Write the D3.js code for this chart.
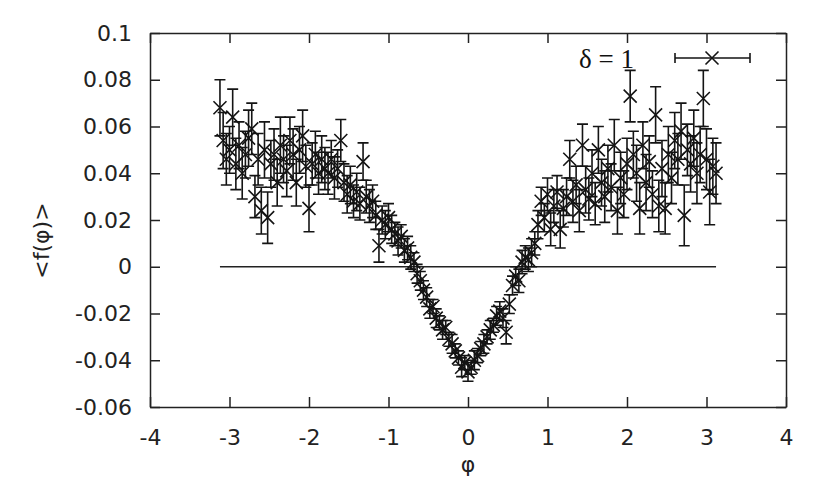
<!DOCTYPE html>
<html>
<head>
<meta charset="utf-8">
<script src="https://cdn.jsdelivr.net/npm/d3@7"></script>
<style>
  body { margin: 0; background: #fff; }
  svg { display: block; }
  .axis text { font-family: "DejaVu Sans", sans-serif; font-size: 22px; fill: #222; }
  .axis path, .axis line { stroke: #222; stroke-width: 1.5px; }
</style>
</head>
<body>
<script>
// phi values, mean f(phi), and error bar half-widths
var phi = [
  -3.12, -3.08, -3.04, -3.00, -2.96, -2.92, -2.88, -2.84, -2.80, -2.76, -2.72, -2.68, -2.64, -2.60, -2.56, -2.52,
  -2.48, -2.44, -2.40, -2.36, -2.32, -2.28, -2.24, -2.20, -2.16, -2.12, -2.08, -2.04, -2.00, -1.96, -1.92, -1.88,
  -1.84, -1.80, -1.76, -1.72, -1.68, -1.64, -1.60, -1.56, -1.52, -1.48, -1.44, -1.40, -1.36, -1.32, -1.28, -1.24,
  -1.20, -1.16, -1.12, -1.08, -1.04, -1.00, -0.96, -0.92, -0.88, -0.84, -0.80, -0.76, -0.72, -0.68, -0.64, -0.60,
  -0.56, -0.52, -0.48, -0.44, -0.40, -0.36, -0.32, -0.28, -0.24, -0.20, -0.16, -0.12, -0.08, -0.04, 0.00,
  0.04, 0.08, 0.12, 0.16, 0.20, 0.24, 0.28, 0.32, 0.36, 0.40, 0.44, 0.48, 0.52, 0.56, 0.60,
  0.64, 0.68, 0.72, 0.76, 0.80, 0.84, 0.88, 0.92, 0.96, 1.00, 1.04, 1.08, 1.12, 1.16, 1.20,
  1.24, 1.28, 1.32, 1.36, 1.40, 1.44, 1.48, 1.52, 1.56, 1.60, 1.64, 1.68, 1.72, 1.76, 1.80, 1.84,
  1.88, 1.92, 1.96, 2.00, 2.04, 2.08, 2.12, 2.16, 2.20, 2.24, 2.28, 2.32, 2.36, 2.40, 2.44, 2.48,
  2.52, 2.56, 2.60, 2.64, 2.68, 2.72, 2.76, 2.80, 2.84, 2.88, 2.92, 2.96, 3.00, 3.04, 3.08, 3.12
];
var fmean = [
  0.068, 0.054, 0.046, 0.050, 0.064, 0.044, 0.052, 0.040, 0.048, 0.055, 0.059, 0.030, 0.046, 0.024, 0.050, 0.021,
  0.044, 0.048, 0.036, 0.052, 0.046, 0.041, 0.054, 0.048, 0.036, 0.050, 0.056, 0.043, 0.025, 0.044, 0.048, 0.040,
  0.046, 0.042, 0.040, 0.046, 0.038, 0.042, 0.054, 0.036, 0.031, 0.035, 0.028, 0.032, 0.027, 0.045, 0.030, 0.026,
  0.028, 0.022, 0.009, 0.020, 0.018, 0.021, 0.016, 0.014, 0.011, 0.013, 0.007, 0.008, 0.004, 0.002, -0.003, -0.006,
  -0.010, -0.013, -0.018, -0.017, -0.022, -0.024, -0.027, -0.026, -0.031, -0.033, -0.036, -0.039, -0.043, -0.041, -0.045,
  -0.043, -0.040, -0.038, -0.035, -0.033, -0.030, -0.027, -0.025, -0.021, -0.019, -0.022, -0.028, -0.016, -0.008, -0.004,
  -0.006, 0.002, 0.004, 0.003, 0.006, 0.010, 0.018, 0.028, 0.021, 0.031, 0.016, 0.026, 0.032, 0.016, 0.025,
  0.030, 0.046, 0.028, 0.035, 0.024, 0.052, 0.033, 0.029, 0.040, 0.027, 0.050, 0.036, 0.030, 0.042, 0.034, 0.052,
  0.024, 0.038, 0.031, 0.044, 0.073, 0.048, 0.040, 0.025, 0.052, 0.036, 0.045, 0.031, 0.065, 0.026, 0.042, 0.025,
  0.048, 0.038, 0.054, 0.046, 0.058, 0.022, 0.050, 0.044, 0.055, 0.040, 0.048, 0.072, 0.046, 0.032, 0.043, 0.040
];
var ferr = [
  0.012, 0.012, 0.011, 0.010, 0.012, 0.011, 0.010, 0.011, 0.010, 0.012, 0.011, 0.009, 0.011, 0.010, 0.012, 0.011,
  0.010, 0.011, 0.010, 0.012, 0.010, 0.011, 0.010, 0.011, 0.010, 0.010, 0.011, 0.009, 0.010, 0.009, 0.010, 0.009,
  0.010, 0.009, 0.009, 0.008, 0.009, 0.008, 0.009, 0.008, 0.008, 0.008, 0.007, 0.008, 0.007, 0.008, 0.007, 0.007,
  0.007, 0.006, 0.007, 0.006, 0.006, 0.006, 0.006, 0.005, 0.006, 0.005, 0.005, 0.005, 0.005, 0.004, 0.004, 0.004,
  0.004, 0.004, 0.004, 0.003, 0.004, 0.003, 0.004, 0.003, 0.003, 0.004, 0.003, 0.003, 0.004, 0.003, 0.004,
  0.003, 0.004, 0.003, 0.003, 0.004, 0.003, 0.004, 0.003, 0.004, 0.004, 0.004, 0.005, 0.004, 0.004, 0.004,
  0.005, 0.005, 0.005, 0.005, 0.006, 0.005, 0.006, 0.006, 0.006, 0.007, 0.007, 0.007, 0.007, 0.008, 0.008,
  0.008, 0.008, 0.009, 0.008, 0.009, 0.009, 0.010, 0.009, 0.010, 0.009, 0.010, 0.010, 0.011, 0.010, 0.010, 0.011,
  0.010, 0.011, 0.010, 0.011, 0.011, 0.010, 0.012, 0.011, 0.010, 0.012, 0.011, 0.010, 0.012, 0.011, 0.012, 0.011,
  0.012, 0.011, 0.012, 0.011, 0.012, 0.013, 0.011, 0.012, 0.012, 0.013, 0.012, 0.012, 0.013, 0.014, 0.012, 0.013
];
var xTicks = [-4, -3, -2, -1, 0, 1, 2, 3, 4];
var yTicks = [-0.06, -0.04, -0.02, 0, 0.02, 0.04, 0.06, 0.08, 0.1];
var zeroLine = [-3.12, 3.12];
var legendLabel = "δ = 1";

var W = 830, H = 498;
var m = { t: 33, r: 44, b: 91, l: 150 };
var width = W - m.l - m.r, height = H - m.t - m.b;

var x = d3.scaleLinear().domain([-4, 4]).range([0, width]);
var y = d3.scaleLinear().domain([-0.06, 0.1]).range([height, 0]);

var svg = d3.select("body").append("svg")
  .attr("width", W)
  .attr("height", H);

var g = svg.append("g")
  .attr("transform", "translate(" + m.l + "," + m.t + ")");

// gnuplot style labels: plain hyphen, no trailing zeros
var fmtX = function(d) { return String(d); };
var fmtY = function(d) { return String(+d.toFixed(2)); };

g.append("g")
  .attr("class", "axis")
  .attr("transform", "translate(0," + height + ")")
  .call(d3.axisBottom(x).tickValues(xTicks).tickSize(-10).tickSizeOuter(0).tickPadding(22).tickFormat(fmtX));

g.append("g")
  .attr("class", "axis")
  .call(d3.axisLeft(y).tickValues(yTicks).tickSize(-10).tickSizeOuter(0).tickPadding(18).tickFormat(fmtY));

g.append("g")
  .attr("class", "axis")
  .call(d3.axisTop(x).tickValues(xTicks).tickSize(-10).tickSizeOuter(0).tickFormat(""));

g.append("g")
  .attr("class", "axis")
  .attr("transform", "translate(" + width + ",0)")
  .call(d3.axisRight(y).tickValues(yTicks).tickSize(-10).tickSizeOuter(0).tickFormat(""));

g.selectAll(".axis text").attr("fill", "#222");

// zero line
g.append("line")
  .attr("x1", x(zeroLine[0]))
  .attr("x2", x(zeroLine[1]))
  .attr("y1", y(0))
  .attr("y2", y(0))
  .style("stroke", "#222")
  .style("stroke-width", 1.6);

var data = phi.map(function(p, i) {
  return { x: p, v: fmean[i], e: ferr[i] };
});

var cap = 5.5, mk = 6.5;
var ink = "#141414";

g.selectAll(".err")
  .data(data)
  .enter().append("path")
  .attr("class", "err")
  .attr("d", function(d) {
    var px = x(d.x), lo = y(d.v - d.e), hi = y(d.v + d.e);
    return "M" + px + "," + lo + "V" + hi +
      "M" + (px - cap) + "," + hi + "H" + (px + cap) +
      "M" + (px - cap) + "," + lo + "H" + (px + cap);
  })
  .style("fill", "none")
  .style("stroke", ink)
  .style("stroke-width", 1.6);

g.selectAll(".pt")
  .data(data)
  .enter().append("path")
  .attr("class", "pt")
  .attr("transform", function(d) {
    return "translate(" + x(d.x) + "," + y(d.v) + ")";
  })
  .attr("d", "M" + -mk + "," + -mk + "L" + mk + "," + mk + "M" + -mk + "," + mk + "L" + mk + "," + -mk)
  .style("fill", "none")
  .style("stroke", ink)
  .style("stroke-width", 1.6);

// legend
var lg = svg.append("g").attr("transform", "translate(0,58)");
lg.append("text")
  .attr("x", 634)
  .attr("y", 10)
  .attr("text-anchor", "end")
  .style("font-family", "'Liberation Serif', 'DejaVu Serif', serif")
  .style("font-size", "27px")
  .style("fill", "#111")
  .text(legendLabel);
lg.append("path")
  .attr("d", "M675,0H750M675,-5V5M750,-5V5")
  .style("fill", "none")
  .style("stroke", ink)
  .style("stroke-width", 1.6);
lg.append("path")
  .attr("transform", "translate(712,0)")
  .attr("d", "M" + -mk + "," + -mk + "L" + mk + "," + mk + "M" + -mk + "," + mk + "L" + mk + "," + -mk)
  .style("fill", "none")
  .style("stroke", ink)
  .style("stroke-width", 1.6);

// axis titles
svg.append("text")
  .attr("transform", "translate(49," + (m.t + height * 0.555) + ") rotate(-90)")
  .attr("text-anchor", "middle")
  .style("font-family", "'DejaVu Sans', sans-serif")
  .style("font-size", "22px")
  .style("fill", "#222")
  .text("<f(φ)>");

svg.append("text")
  .attr("x", m.l + x(0))
  .attr("y", 472)
  .attr("text-anchor", "middle")
  .style("font-family", "'DejaVu Sans', sans-serif")
  .style("font-size", "22px")
  .style("fill", "#222")
  .text("φ");
</script>
</body>
</html>
